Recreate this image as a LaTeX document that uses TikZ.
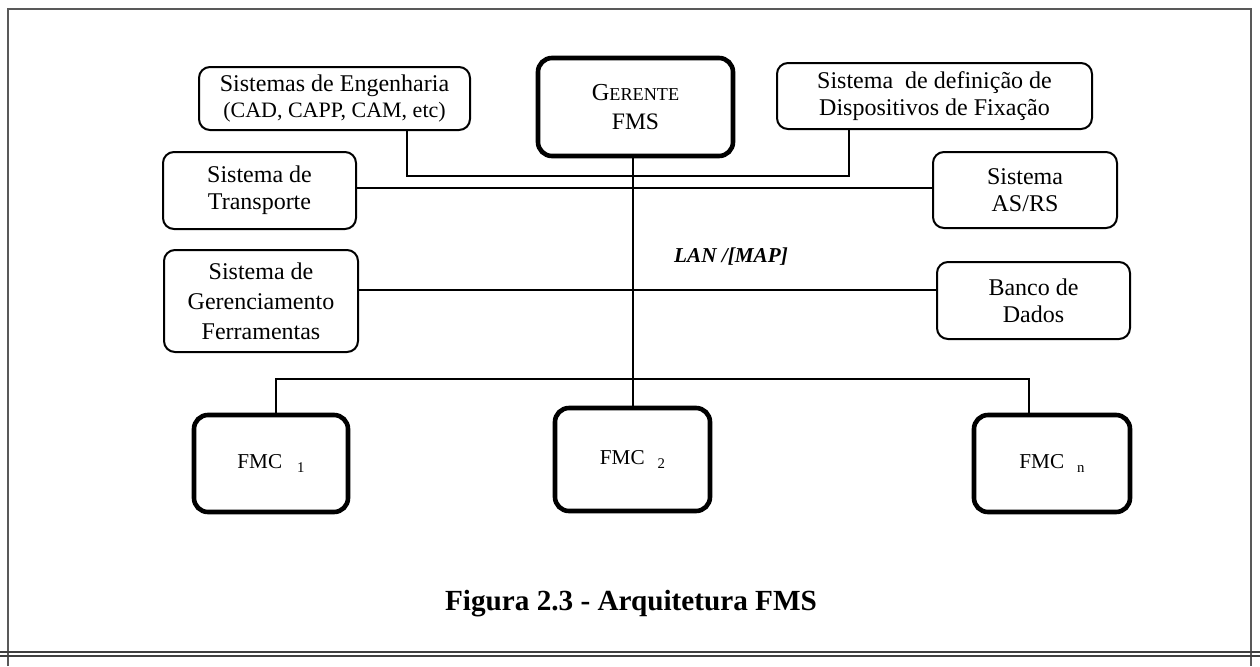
\documentclass[tikz,border=0pt]{standalone}
\usepackage{fontspec}
\setmainfont{Liberation Serif}
\tikzset{
  box/.style={draw, rounded corners=5.5pt, line width=1pt, align=center, inner sep=0pt,
    font=\fontsize{12}{13.5}\selectfont},
  thickbox/.style={draw, rounded corners=7pt, line width=2.3pt, align=center, inner sep=0pt,
    font=\fontsize{12}{13.5}\selectfont},
  cellbox/.style={thickbox, font=\fontsize{10.6}{12}\selectfont},
  conn/.style={line width=0.9pt},
  frameline/.style={line width=0.7pt, draw=black!65},
  ruleline/.style={line width=0.8pt, draw=black!75},
}
\newcommand{\cellsub}[2]{\hspace{#1}\raisebox{-1.7pt}{\fontsize{7.4}{8}\selectfont #2}}
\begin{document}
\begin{tikzpicture}[x=0.5pt,y=-0.5pt]
\useasboundingbox (0,0) rectangle (1260,666);

% page frame and bottom double rule
\draw[frameline] (8,666) -- (8,9) -- (1251,9) -- (1251,666);
\draw[ruleline] (0,652) -- (1260,652);
\draw[ruleline] (0,656) -- (1260,656);

% systems attached to the network
\node[box, minimum width=135.5pt, minimum height=31.5pt] (eng) at (334.5,98.5)
  {Sistemas de Engenharia\\[-0.5pt]{\fontsize{11}{13}\selectfont (CAD, CAPP, CAM, etc)}};
\node[thickbox, minimum width=97.5pt, minimum height=49pt] (ger) at (635.5,107)
  {{\fontsize{12.2}{13}\selectfont G}{\fontsize{9.1}{13}\selectfont ERENTE}\\[1pt]{\fontsize{11.8}{13}\selectfont FMS}};
\node[box, minimum width=157.5pt, minimum height=33pt] (def) at (934.5,96)
  {Sistema\ \ de definição de\\Dispositivos de Fixação};
\node[box, minimum width=96.5pt, minimum height=38.5pt] (trans) at (259.5,190.5)
  {Sistema de\\Transporte};
\node[box, minimum width=92pt, minimum height=38pt] (asrs) at (1025,190)
  {Sistema\\AS/RS};
\node[box, minimum width=97pt, minimum height=51pt, font=\fontsize{12}{15}\selectfont] (gerenc) at (261,301)
  {Sistema de\\Gerenciamento\\Ferramentas};
\node[box, minimum width=96.5pt, minimum height=38.5pt] (banco) at (1033.5,300.5)
  {Banco de\\Dados};

% manufacturing cells
\node[cellbox, minimum width=77pt, minimum height=48.5pt] (fmc1) at (271,463.5) {FMC\cellsub{7.5pt}{1}};
\node[cellbox, minimum width=77.5pt, minimum height=51.5pt] (fmc2) at (632.5,459.5) {FMC\cellsub{6.5pt}{2}};
\node[cellbox, minimum width=78pt, minimum height=48.5pt] (fmcn) at (1052,463.5) {FMC\cellsub{6.5pt}{n}};

% labels
\node[font=\bfseries\itshape\fontsize{10.6}{12}\selectfont] (lan) at (731,257) {LAN /[MAP]};
\node[font=\bfseries\fontsize{14.6}{16}\selectfont] (caption) at (631,604) {Figura 2.3 - Arquitetura FMS};

% network connections
\draw[conn] (eng.south -| 407,0) -- (407,176) -- (849,176) -- (def.south -| 849,0);
\draw[conn] (trans.east |- 0,188) -- (asrs.west |- 0,188);
\draw[conn] (gerenc.east |- 0,290) -- (banco.west |- 0,290);
\draw[conn] (ger.south -| 633,0) -- (fmc2.north -| 633,0);
\draw[conn] (fmc1.north -| 276,0) -- (276,379) -- (1029,379) -- (fmcn.north -| 1029,0);
\end{tikzpicture}
\end{document}
